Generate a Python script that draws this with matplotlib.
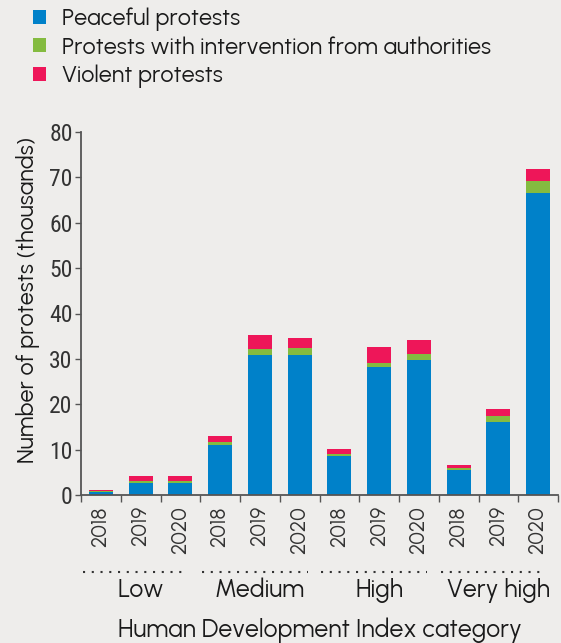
import numpy as np
import matplotlib.pyplot as plt
from matplotlib.patches import Patch
from matplotlib import font_manager as fm

# Protest counts (thousands) by HDI category and year
groups = ["Low", "Medium", "High", "Very high"]
years = ["2018", "2019", "2020"]
peaceful = [0.75, 2.65, 2.65, 11.05, 30.75, 30.75, 8.6, 28.1, 29.65, 5.5, 16.15, 66.6]
intervention = [0.1, 0.45, 0.45, 0.65, 1.35, 1.75, 0.5, 1.1, 1.35, 0.45, 1.35, 2.65]
violent = [0.35, 1.1, 1.1, 1.35, 3.1, 2.0, 1.1, 3.5, 3.1, 0.65, 1.55, 2.65]
series_names = ["Peaceful protests", "Protests with intervention from authorities", "Violent protests"]

bg = "#eeedeb"
colors = ["#0081c9", "#84bb40", "#ee1659"]
text_col = "#1a1a1a"

installed = set(f.name for f in fm.fontManager.ttflist)


def pick(*names):
    for n in names:
        if n in installed:
            return n
    return "DejaVu Sans"


main_font = pick("Urbanist", "Outfit", "Lato")
narrow_font = pick("Liberation Sans Narrow", "Roboto Condensed", "Archivo Narrow", "Lato")
plt.rcParams["font.family"] = [main_font, "DejaVu Sans"]

fig = plt.figure(figsize=(5.61, 6.43), dpi=100, facecolor=bg)
ax = fig.add_axes([81 / 561, 1 - 495 / 643, (558 - 81) / 561, (495 - 132) / 643])
ax.set_facecolor(bg)

x = np.arange(len(peaceful))
p = np.array(peaceful)
g = np.array(intervention)
v = np.array(violent)
ax.bar(x, p, width=0.6, color=colors[0])
ax.bar(x, g, width=0.6, bottom=p, color=colors[1])
ax.bar(x, v, width=0.6, bottom=p + g, color=colors[2])

ax.set_xlim(-0.5, 11.5)
ax.set_ylim(0, 80)
ax.set_yticks(np.arange(0, 81, 10))
for s in ["top", "right"]:
    ax.spines[s].set_visible(False)
for s in ["left", "bottom"]:
    ax.spines[s].set_color("#555555")
    ax.spines[s].set_linewidth(1.3)

ax.tick_params(axis="y", length=4, width=1, color="#555555", labelsize=17, labelcolor="#333333", pad=2)
for lab in ax.get_yticklabels():
    lab.set_family([narrow_font, "DejaVu Sans"])

year_labels = years * len(groups)
ax.set_xticks(x)
ax.set_xticklabels(year_labels, rotation=90, fontsize=15, color="#333333")
ax.tick_params(axis="x", which="major", length=0, pad=8)
ax.set_xticks(np.arange(-0.5, 11.6, 1), minor=True)
ax.tick_params(axis="x", which="minor", length=5, width=1, color="#555555")

ax.set_ylabel("Number of protests (thousands)", fontsize=16.8, color=text_col)
ax.yaxis.set_label_coords(-0.086, 0.537)

trans = ax.get_xaxis_transform()
for i, name in enumerate(groups):
    start = i * 3
    ax.plot([start - 0.45, start + 2.2], [-0.212, -0.212], transform=trans, clip_on=False,
            color="#333333", linestyle=(0, (1, 3.2)), linewidth=1.5)
    ax.text(start + 1, -0.262, name, transform=trans, ha="center", va="center",
            fontsize=17.8, color=text_col)

ax.text(0.5, -0.372, "Human Development Index category", transform=ax.transAxes,
        ha="center", va="center", fontsize=17.8, color=text_col)

handles = [Patch(facecolor=c, edgecolor="none") for c in colors]
fig.legend(handles, series_names, loc="upper left", bbox_to_anchor=(24 / 561, 1 + 2 / 643),
           frameon=False, fontsize=16.8, handlelength=0.55, handleheight=0.55,
           handletextpad=0.7, labelspacing=0.22, labelcolor=text_col, borderaxespad=0)

fig.savefig("out.png", dpi=100, facecolor=bg)
